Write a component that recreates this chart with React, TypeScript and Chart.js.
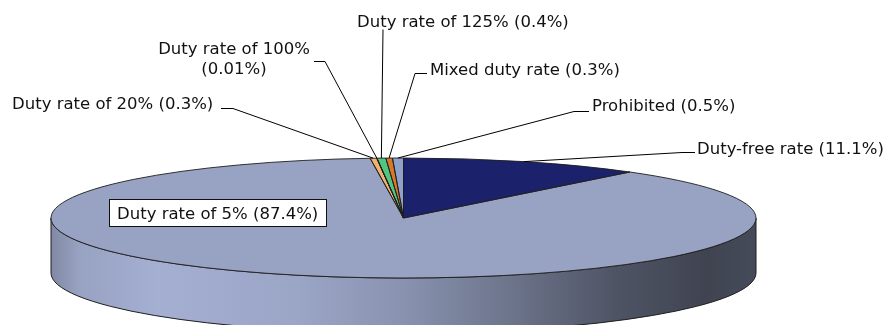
import React, { useEffect, useRef } from "react";
import { Chart, registerables } from "chart.js";

Chart.register(...registerables);

// Import regime shares, clockwise from 12 o'clock
const categories = [
  "Duty-free rate",
  "Duty rate of 5%",
  "Duty rate of 20%",
  "Duty rate of 100%",
  "Duty rate of 125%",
  "Mixed duty rate",
  "Prohibited",
];
const shares = [11.1, 87.4, 0.3, 0.01, 0.4, 0.3, 0.5];
const sliceColors = ["#1c216c", "#98a2c2", "#f2b06e", "#c0504d", "#4fc77f", "#d9772a", "#8fa2cc"];

// Callout placement (text left/baseline, elbow of the leader, end of its short tail)
const textX = [697, 117, 12, 234, 357, 430, 592];
const textY = [154, 219, 109, 54, 27, 75, 111];
const elbowX = [682, 0, 233, 325, 383, 415, 574];
const elbowY = [152, 0, 108, 61, 29, 73, 111];
const tailX = [695, 0, 221, 314, 383, 427, 589];

// Pie disc geometry on the page
const CX = 403.5;
const CY = 218;
const RX = 352.5;
const RY = 60;
const DEPTH = 55;

const FONT = '16.5px "DejaVu Sans", Verdana, sans-serif';

const wallShade: [number, number][] = [
  [0, 0.84],
  [0.04, 1.0],
  [0.15, 1.08],
  [0.35, 1.02],
  [0.5, 0.9],
  [0.65, 0.72],
  [0.8, 0.52],
  [0.93, 0.42],
  [1, 0.46],
];

function shade(hex: string, f: number) {
  const n = parseInt(hex.slice(1), 16);
  const c = [(n >> 16) & 255, (n >> 8) & 255, n & 255].map((v) =>
    Math.max(0, Math.min(255, Math.round(v * f)))
  );
  return `rgb(${c[0]},${c[1]},${c[2]})`;
}

function labelText(i: number) {
  return `${categories[i]} (${shares[i]}%)`;
}

const pie3d = {
  id: "pie3d",
  beforeDatasetsDraw(chart: any) {
    const ctx: CanvasRenderingContext2D = chart.ctx;
    const arcs = chart.getDatasetMeta(0).data;
    // side wall of the disc, only where it faces the viewer
    arcs.forEach((arc: any, i: number) => {
      const { startAngle, endAngle } = arc.getProps(["startAngle", "endAngle"], true);
      const a = Math.max(startAngle, 0);
      const b = Math.min(endAngle, Math.PI);
      if (b <= a) return;
      const g = ctx.createLinearGradient(CX - RX, 0, CX + RX, 0);
      wallShade.forEach(([p, f]) => g.addColorStop(p, shade(sliceColors[i], f)));
      ctx.beginPath();
      ctx.ellipse(CX, CY, RX, RY, 0, a, b);
      ctx.ellipse(CX, CY + DEPTH, RX, RY, 0, b, a, true);
      ctx.closePath();
      ctx.fillStyle = g;
      ctx.fill();
      ctx.strokeStyle = "#1e1e1e";
      ctx.lineWidth = 1;
      ctx.stroke();
    });
    // squash the library's circular pie into the disc's top face
    const ref = arcs[0];
    ctx.save();
    ctx.translate(CX, CY);
    ctx.scale(1, RY / RX);
    ctx.translate(-ref.x, -ref.y);
  },
  afterDatasetsDraw(chart: any) {
    const ctx: CanvasRenderingContext2D = chart.ctx;
    ctx.restore();
    const arcs = chart.getDatasetMeta(0).data;
    // slice outlines on the top face
    ctx.strokeStyle = "#1e1e1e";
    ctx.lineWidth = 0.9;
    arcs.forEach((arc: any) => {
      const { startAngle, endAngle } = arc.getProps(["startAngle", "endAngle"], true);
      ctx.beginPath();
      ctx.moveTo(CX, CY);
      ctx.ellipse(CX, CY, RX, RY, 0, startAngle, endAngle);
      ctx.closePath();
      ctx.stroke();
    });

    // callouts
    ctx.font = FONT;
    ctx.textBaseline = "alphabetic";
    arcs.forEach((arc: any, i: number) => {
      const { startAngle, endAngle } = arc.getProps(["startAngle", "endAngle"], true);
      if (i === 1) {
        // boxed label sitting on the large slice
        const t = labelText(i);
        const w = ctx.measureText(t).width;
        ctx.fillStyle = "#ffffff";
        ctx.fillRect(textX[i] - 8, textY[i] - 20, w + 16, 27);
        ctx.strokeStyle = "#111";
        ctx.lineWidth = 1;
        ctx.strokeRect(Math.round(textX[i] - 8) + 0.5, textY[i] - 19.5, Math.round(w + 16), 27);
        ctx.fillStyle = "#111";
        ctx.textAlign = "left";
        ctx.fillText(t, textX[i], textY[i]);
        return;
      }
      const mid = (startAngle + endAngle) / 2;
      const ax = CX + RX * Math.cos(mid);
      const ay = CY + RY * Math.sin(mid);
      ctx.strokeStyle = "#000";
      ctx.lineWidth = 1;
      ctx.beginPath();
      ctx.moveTo(ax, ay);
      ctx.lineTo(elbowX[i], elbowY[i] + 0.5);
      ctx.lineTo(tailX[i], elbowY[i] + 0.5);
      ctx.stroke();
      ctx.fillStyle = "#111";
      if (i === 3) {
        ctx.textAlign = "center";
        ctx.fillText(categories[i], textX[i], textY[i]);
        ctx.fillText(`(${shares[i]}%)`, textX[i], textY[i] + 20);
      } else {
        ctx.textAlign = "left";
        ctx.fillText(labelText(i), textX[i], textY[i]);
      }
    });
  },
};

export default function App() {
  const ref = useRef<HTMLCanvasElement | null>(null);

  useEffect(() => {
    if (!ref.current) return;
    const chart = new Chart(ref.current, {
      type: "pie",
      data: {
        labels: categories,
        datasets: [
          {
            data: shares,
            backgroundColor: sliceColors,
            borderWidth: 0,
            radius: RX,
            clip: false,
          } as any,
        ],
      },
      options: {
        responsive: false,
        animation: false,
        devicePixelRatio: 1,
        events: [],
        layout: { padding: 0 },
        plugins: {
          legend: { display: false },
          tooltip: { enabled: false },
        },
      },
      plugins: [pie3d],
    });
    return () => chart.destroy();
  }, []);

  return (
    <div style={{ position: "absolute", left: 0, top: 0, width: 886, height: 325, background: "#fff" }}>
      <canvas ref={ref} width={886} height={325} style={{ display: "block" }} />
    </div>
  );
}
